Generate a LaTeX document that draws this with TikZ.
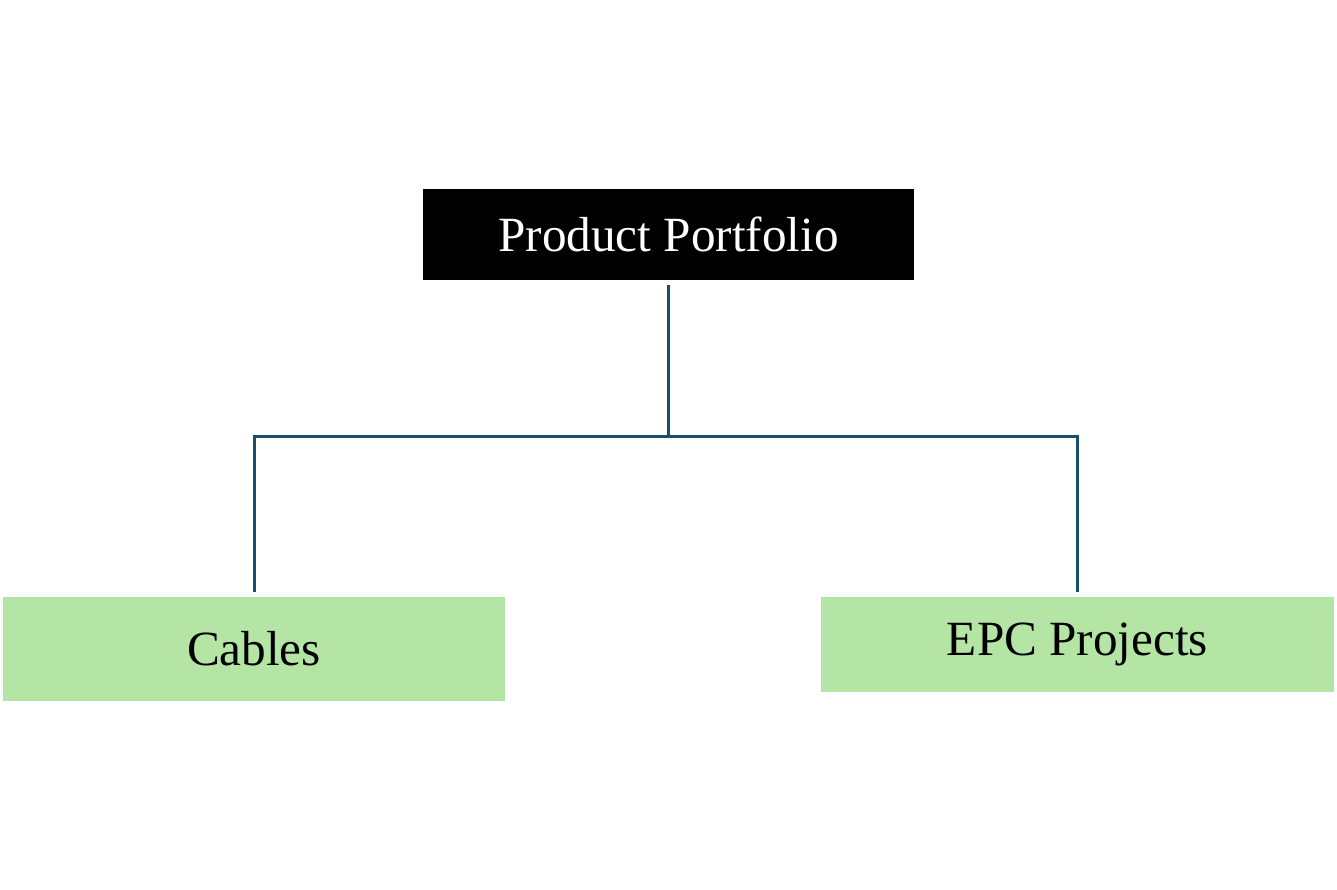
\documentclass[tikz,border=0pt]{standalone}
\usepackage{fontspec}
\setmainfont{Liberation Serif}
\usepackage{xcolor}
\definecolor{linkblue}{HTML}{1A4F6C}
\definecolor{leafgreen}{HTML}{B4E5A4}

\begin{document}
\begin{tikzpicture}[
    link/.style={draw=linkblue, line width=0.03cm},
    every node/.style={inner sep=0pt, font=\fontsize{14}{17}\selectfont}
  ]
    \useasboundingbox (0,0) rectangle (13.37,8.89);
    \node (top) [fill=black, text=white, minimum width=4.91cm, minimum height=0.91cm] at (6.685,6.545) {Product Portfolio};
    \node (cables) [fill=leafgreen, minimum width=5.02cm, minimum height=1.04cm] at (2.54,2.40) {Cables};
    \node (epc) [fill=leafgreen, minimum width=5.13cm, minimum height=0.95cm] at (10.775,2.445) {EPC Projects};
    \coordinate (split) at (6.685,4.52);
    \draw[link] ([yshift=-0.04cm]top.south) -- (split);
    \draw[link] ([yshift=0.04cm]cables.north) |- (split) -| ([yshift=0.04cm]epc.north);
  \end{tikzpicture}
\end{document}
